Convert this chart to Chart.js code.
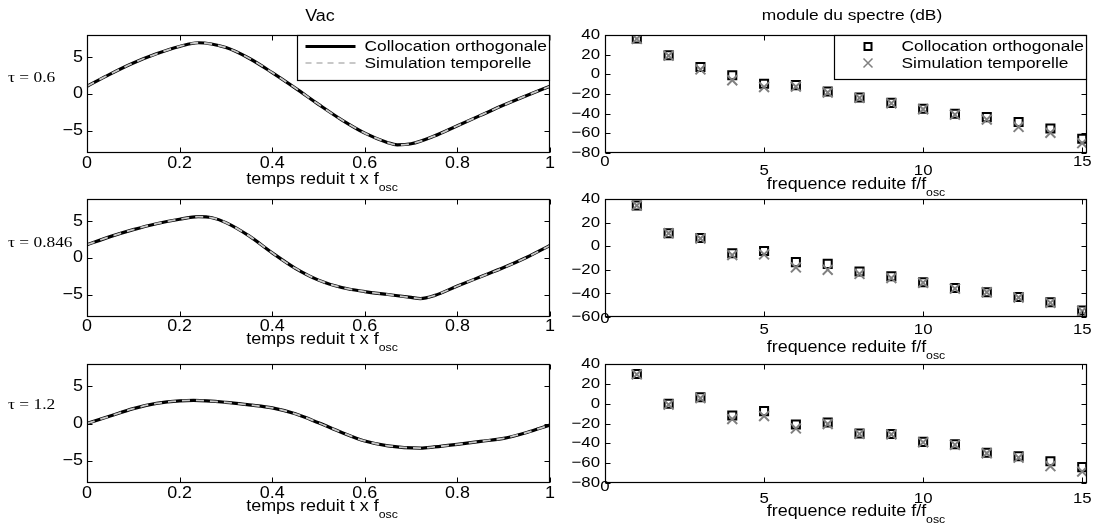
<!DOCTYPE html>
<html lang="fr">
<head>
<meta charset="utf-8">
<title>Vac / module du spectre</title>
<script src="https://cdn.jsdelivr.net/npm/chart.js@4.4.1/dist/chart.umd.min.js"></script>
<style>
  html, body { margin: 0; padding: 0; background: #fff; }
  body { width: 1096px; height: 525px; position: relative; overflow: hidden;
         font-family: "Liberation Sans", Arial, Helvetica, sans-serif; color: #000; }
  canvas { position: absolute; }
  .lbl { position: absolute; white-space: nowrap; line-height: 1; font-size: 16px;
         transform: translateX(-50%) scaleX(1.12); }
  .lbl span.sub { font-size: 11px; position: relative; top: 7px; }
  .tau { position: absolute; white-space: nowrap; line-height: 1;
         font: 15.5px "Liberation Serif", "Times New Roman", serif;
         transform-origin: 0 0; transform: scaleX(1.12); }
</style>
</head>
<body>
<canvas id="vac1" style="left:0;top:0" width="560" height="190"></canvas>
<canvas id="vac2" style="left:0;top:190px" width="560" height="165"></canvas>
<canvas id="vac3" style="left:0;top:355px" width="560" height="170"></canvas>
<canvas id="spec1" style="left:560px;top:0" width="536" height="190"></canvas>
<canvas id="spec2" style="left:560px;top:190px" width="536" height="165"></canvas>
<canvas id="spec3" style="left:560px;top:355px" width="536" height="170"></canvas>

<div class="lbl" style="left:320px;top:8px">Vac</div>
<div class="lbl" style="left:852px;top:7px;font-size:15.5px">module du spectre (dB)</div>

<div class="tau" style="left:8px;top:68px">τ = 0.6</div>
<div class="tau" style="left:8px;top:233px">τ = 0.846</div>
<div class="tau" style="left:8px;top:395px">τ = 1.2</div>

<div class="lbl" style="left:322px;top:171px">temps reduit t x f<span class="sub">osc</span></div>
<div class="lbl" style="left:322px;top:331px">temps reduit t x f<span class="sub">osc</span></div>
<div class="lbl" style="left:322px;top:498px">temps reduit t x f<span class="sub">osc</span></div>
<div class="lbl" style="left:856px;top:176px">frequence reduite f/f<span class="sub">osc</span></div>
<div class="lbl" style="left:856px;top:339px">frequence reduite f/f<span class="sub">osc</span></div>
<div class="lbl" style="left:856px;top:503px">frequence reduite f/f<span class="sub">osc</span></div>

<script>
// --- time signals (reduced time t x fosc) ---
const t06 = [0, 0.05, 0.1, 0.15, 0.2, 0.24, 0.3, 0.35, 0.4, 0.45, 0.5, 0.55, 0.6, 0.65, 0.67, 0.7, 0.75, 0.8, 0.85, 0.9, 0.95, 1];
const vac06 = [1.05, 2.7, 4.2, 5.45, 6.45, 6.95, 6.3, 4.85, 2.9, 0.8, -1.4, -3.5, -5.3, -6.6, -6.9, -6.75, -5.7, -4.3, -2.9, -1.5, -0.2, 1.05];
const t0846 = [0, 0.05, 0.1, 0.15, 0.2, 0.24, 0.27, 0.3, 0.35, 0.4, 0.45, 0.5, 0.55, 0.6, 0.65, 0.7, 0.72, 0.75, 0.8, 0.85, 0.9, 0.95, 1];
const vac0846 = [1.8, 2.9, 3.85, 4.65, 5.25, 5.6, 5.45, 4.8, 3.0, 0.7, -1.4, -3.0, -4.0, -4.55, -4.95, -5.35, -5.5, -5.1, -3.8, -2.55, -1.3, 0.1, 1.7];
const t12 = [0, 0.05, 0.1, 0.15, 0.2, 0.23, 0.3, 0.35, 0.4, 0.45, 0.5, 0.55, 0.6, 0.65, 0.72, 0.75, 0.8, 0.85, 0.9, 0.95, 1];
const vac12 = [0, 1.0, 2.0, 2.7, 3.05, 3.1, 2.85, 2.5, 2.1, 1.3, 0.1, -1.2, -2.35, -3.0, -3.3, -3.15, -2.8, -2.4, -2.0, -1.2, -0.2];

// --- spectra, dB per harmonic (collocation orthogonale / simulation temporelle) ---
const harm = [1, 2, 3, 4, 5, 6, 7, 8, 9, 10, 11, 12, 13, 14, 15];
const colloc06 = [36.5, 19.5, 7.5, -1, -9.5, -11, -17.5, -23.5, -29, -35, -40, -43.5, -48.5, -55, -65.5];
const simul06 = [36, 19, 5, -6, -13, -12.5, -18.5, -24, -29.5, -35.5, -41, -46, -53.5, -59.5, -70];
const colloc0846 = [34.5, 11, 7, -6, -4, -13.5, -15, -21.5, -25.5, -30.5, -35.5, -39, -43, -47.5, -54.5];
const simul0846 = [34.5, 11, 6.5, -7.5, -7, -18, -20, -23.5, -27, -31, -36, -39, -43.5, -48, -55];
const colloc12 = [30, 0, 6.5, -12, -7.5, -21, -19, -30, -30.5, -38.5, -41, -49.5, -53, -58, -64];
const simul12 = [29.5, -1, 5.5, -15.5, -12.5, -25, -20.5, -30.5, -31, -39, -41.5, -50, -54.5, -63, -68.5];

// --- ticks ---
const tTicks = [0, 0.2, 0.4, 0.6, 0.8, 1];
const vacTicks = [-5, 0, 5];
const fTicks = [0, 5, 10, 15];
const dbTicks80 = [-80, -60, -40, -20, 0, 20, 40];
const dbTicks60 = [-60, -40, -20, 0, 20, 40];

const SX = 1.12;
const fmt = v => String(v).replace('-', '\u2212');

function stretchText(ctx, s, x, y, align) {
  ctx.save();
  ctx.translate(x, y);
  ctx.scale(SX, 1);
  ctx.textAlign = align;
  ctx.fillText(s, 0, 0);
  ctx.restore();
}

// matlab-like box: inward ticks on all four sides, tick labels, legend
const frame = {
  id: 'frame',
  afterDatasetsDraw(chart, args, o) {
    const {ctx, chartArea: a} = chart;
    const sx = chart.scales.x, sy = chart.scales.y;
    const L = Math.round(a.left) + 0.5, R = Math.round(a.right) - 0.5;
    const T = Math.round(a.top) + 0.5, B = Math.round(a.bottom) - 0.5;
    ctx.save();
    ctx.strokeStyle = '#000';
    ctx.lineWidth = 1;
    ctx.beginPath();
    o.xTicks.forEach(v => {
      const p = Math.round(sx.getPixelForValue(v)) + 0.5;
      ctx.moveTo(p, B); ctx.lineTo(p, B - 5);
      ctx.moveTo(p, T); ctx.lineTo(p, T + 5);
    });
    o.yTicks.forEach(v => {
      const p = Math.round(sy.getPixelForValue(v)) + 0.5;
      ctx.moveTo(L, p); ctx.lineTo(L + 5, p);
      ctx.moveTo(R, p); ctx.lineTo(R - 5, p);
    });
    ctx.stroke();
    ctx.lineWidth = 1.2;
    ctx.strokeRect(L, T, R - L, B - T);

    ctx.fillStyle = '#000';
    ctx.textBaseline = 'middle';
    ctx.font = o.tickFont;
    o.xTicks.forEach((v, i) => stretchText(ctx, fmt(v), sx.getPixelForValue(v), a.bottom + o.xOff[i], 'center'));
    o.yTicks.forEach(v => stretchText(ctx, fmt(v), a.left - o.yPad, sy.getPixelForValue(v), 'right'));

    if (o.legend) {
      const lg = o.legend;
      const bx = Math.round(a.right - lg.w) + 0.5, by = T;
      ctx.fillStyle = '#fff';
      ctx.fillRect(bx, by, lg.w, lg.h);
      ctx.strokeStyle = '#000';
      ctx.lineWidth = 1.2;
      ctx.strokeRect(bx, by, R - bx, lg.h);
      const y1 = by + 11, y2 = by + 27.5;
      if (lg.kind === 'line') {
        ctx.beginPath(); ctx.lineWidth = 3; ctx.strokeStyle = '#000';
        ctx.moveTo(bx + 8, y1); ctx.lineTo(bx + 58, y1); ctx.stroke();
        ctx.beginPath(); ctx.lineWidth = 2; ctx.strokeStyle = '#c8c8c8'; ctx.setLineDash([6, 5]);
        ctx.moveTo(bx + 8, y2); ctx.lineTo(bx + 58, y2); ctx.stroke();
        ctx.setLineDash([]);
      } else {
        ctx.lineWidth = 2; ctx.strokeStyle = '#000';
        ctx.strokeRect(bx + 30, y1 - 3.5, 7, 7);
        ctx.beginPath(); ctx.lineWidth = 1.5; ctx.strokeStyle = '#808080';
        ctx.moveTo(bx + 29, y2 - 4.5); ctx.lineTo(bx + 38, y2 + 4.5);
        ctx.moveTo(bx + 38, y2 - 4.5); ctx.lineTo(bx + 29, y2 + 4.5);
        ctx.stroke();
      }
      ctx.fillStyle = '#000';
      ctx.font = '15.5px "Liberation Sans", Arial, sans-serif';
      stretchText(ctx, 'Collocation orthogonale', bx + 67, y1 + 0.5, 'left');
      stretchText(ctx, 'Simulation temporelle', bx + 67, y2 + 0.5, 'left');
    }
    ctx.restore();
  }
};

const pts = (xs, ys) => xs.map((x, i) => ({x, y: ys[i]}));

function panel(id, datasets, xMax, yMin, yMax, pad, frameOpts) {
  return new Chart(document.getElementById(id), {
    type: 'scatter',
    data: {datasets},
    options: {
      responsive: false, animation: false, events: [],
      layout: {padding: pad},
      plugins: {legend: {display: false}, tooltip: {enabled: false}, frame: frameOpts},
      scales: {
        x: {type: 'linear', display: false, min: 0, max: xMax},
        y: {type: 'linear', display: false, min: yMin, max: yMax}
      }
    },
    plugins: [frame]
  });
}

function vacSets(ts, vs) {
  return [
    {label: 'Collocation orthogonale', data: pts(ts, vs), showLine: true, pointRadius: 0,
     borderColor: '#000', borderWidth: 3.2, cubicInterpolationMode: 'monotone', order: 1},
    {label: 'Simulation temporelle', data: pts(ts, vs), showLine: true, pointRadius: 0,
     borderColor: '#c8c8c8', borderWidth: 1.8, borderDash: [8, 6], cubicInterpolationMode: 'monotone', order: 0}
  ];
}

function specSets(colloc, simul) {
  return [
    {label: 'Collocation orthogonale', data: pts(harm, colloc), pointStyle: 'rect', pointRadius: 5.7,
     borderColor: '#000', borderWidth: 2, backgroundColor: 'rgba(0,0,0,0)', order: 1},
    {label: 'Simulation temporelle', data: pts(harm, simul), pointStyle: 'crossRot', pointRadius: 7,
     borderColor: '#808080', borderWidth: 2, order: 0}
  ];
}

const leftFont = '16px "Liberation Sans", Arial, sans-serif';
const rightFont = '15px "Liberation Sans", Arial, sans-serif';

panel('vac1', vacSets(t06, vac06), 1, -8, 8, {left: 87, right: 10, top: 35, bottom: 37},
  {xTicks: tTicks, yTicks: vacTicks, xOff: [11, 11, 11, 11, 11, 11], yPad: 4, tickFont: leftFont,
   legend: {kind: 'line', w: 253, h: 45}});
panel('vac2', vacSets(t0846, vac0846), 1, -8, 8, {left: 87, right: 10, top: 9, bottom: 38},
  {xTicks: tTicks, yTicks: vacTicks, xOff: [10, 10, 10, 10, 10, 10], yPad: 4, tickFont: leftFont});
panel('vac3', vacSets(t12, vac12), 1, -8, 8, {left: 87, right: 10, top: 9, bottom: 42},
  {xTicks: tTicks, yTicks: vacTicks, xOff: [11, 11, 11, 11, 11, 11], yPad: 4, tickFont: leftFont});

panel('spec1', specSets(colloc06, simul06), 15.15, -80, 40, {left: 45, right: 3, top: 35, bottom: 37},
  {xTicks: fTicks, yTicks: dbTicks80, xOff: [9, 18, 18, 9], yPad: 5, tickFont: rightFont,
   legend: {kind: 'marker', w: 253, h: 44}});
panel('spec2', specSets(colloc0846, simul0846), 15.15, -60, 40, {left: 45, right: 3, top: 9, bottom: 38},
  {xTicks: fTicks, yTicks: dbTicks60, xOff: [2, 13, 13, 13], yPad: 5, tickFont: rightFont});
panel('spec3', specSets(colloc12, simul12), 15.15, -80, 40, {left: 45, right: 3, top: 9, bottom: 42},
  {xTicks: fTicks, yTicks: dbTicks80, xOff: [4, 16, 16, 16], yPad: 5, tickFont: rightFont});
</script>
</body>
</html>
